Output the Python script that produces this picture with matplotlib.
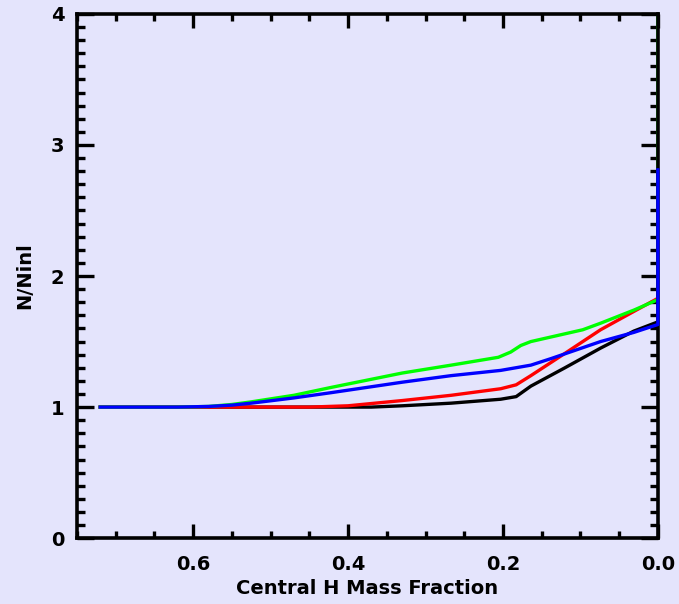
import matplotlib
matplotlib.use('Agg')
import matplotlib.pyplot as plt
from matplotlib.ticker import MultipleLocator

bg = '#E4E4FC'

# central H mass fraction vs N/Ninl for four models
x_black = [0.72, 0.60, 0.50, 0.42, 0.37, 0.33, 0.267, 0.203, 0.183, 0.164, 0.12, 0.074, 0.031, 0.0, 0.0]
y_black = [1.00, 1.00, 1.00, 1.00, 1.00, 1.01, 1.03, 1.06, 1.08, 1.16, 1.30, 1.45, 1.58, 1.65, 1.62]

x_red = [0.72, 0.60, 0.50, 0.45, 0.40, 0.33, 0.267, 0.203, 0.183, 0.164, 0.12, 0.074, 0.031, 0.0]
y_red = [1.00, 1.00, 1.00, 1.00, 1.01, 1.05, 1.09, 1.14, 1.17, 1.24, 1.41, 1.59, 1.73, 1.83]

x_green = [0.72, 0.62, 0.58, 0.55, 0.525, 0.47, 0.422, 0.33, 0.267, 0.206, 0.19, 0.177, 0.164, 0.097, 0.074, 0.031, 0.0, 0.0]
y_green = [1.00, 1.00, 1.005, 1.02, 1.04, 1.09, 1.15, 1.26, 1.32, 1.38, 1.42, 1.47, 1.50, 1.59, 1.64, 1.74, 1.82, 4.20]

x_blue = [0.72, 0.62, 0.58, 0.55, 0.525, 0.47, 0.422, 0.33, 0.267, 0.203, 0.164, 0.138, 0.074, 0.031, 0.0, 0.0]
y_blue = [1.00, 1.00, 1.005, 1.015, 1.03, 1.07, 1.11, 1.19, 1.24, 1.28, 1.32, 1.37, 1.50, 1.57, 1.63, 2.81]

fig = plt.figure(figsize=(6.79, 6.04), dpi=100, facecolor=bg)
ax = fig.add_axes([0.1134, 0.109, 0.8555, 0.868], facecolor=bg)

lw = 2.4
ax.plot(x_black, y_black, color='black', lw=lw, zorder=2)
ax.plot(x_red, y_red, color='#FF0000', lw=lw, zorder=2)
ax.plot(x_green, y_green, color='#00FF00', lw=lw, zorder=2)
ax.plot(x_blue, y_blue, color='#0000FF', lw=lw, zorder=3, clip_on=False)

ax.set_xlim(0.75, 0.0)
ax.set_ylim(0, 4)

ax.xaxis.set_major_locator(MultipleLocator(0.2))
ax.xaxis.set_minor_locator(MultipleLocator(0.05))
ax.yaxis.set_major_locator(MultipleLocator(1))
ax.yaxis.set_minor_locator(MultipleLocator(0.1))
ax.xaxis.set_major_formatter(plt.FuncFormatter(lambda v, p: '%.1f' % abs(v)))
ax.yaxis.set_major_formatter(plt.FuncFormatter(lambda v, p: '%d' % round(v)))

for s in ax.spines.values():
    s.set_linewidth(2.6)

ax.tick_params(which='both', direction='in', top=True, right=True, width=2.4,
               labelsize=14)
ax.tick_params(axis='x', which='both', pad=12)
ax.tick_params(axis='y', which='both', pad=9)
ax.tick_params(axis='x', which='major', length=10)
ax.tick_params(axis='x', which='minor', length=5)
ax.tick_params(axis='y', which='major', length=12)
ax.tick_params(axis='y', which='minor', length=6)
for lab in ax.get_xticklabels() + ax.get_yticklabels():
    lab.set_fontweight('bold')

ax.set_xlabel('Central H Mass Fraction', fontsize=14, fontweight='bold', labelpad=4)
ax.set_ylabel('N/Ninl', fontsize=14, fontweight='bold', labelpad=12)

fig.savefig('out.png', dpi=100, facecolor=bg)
